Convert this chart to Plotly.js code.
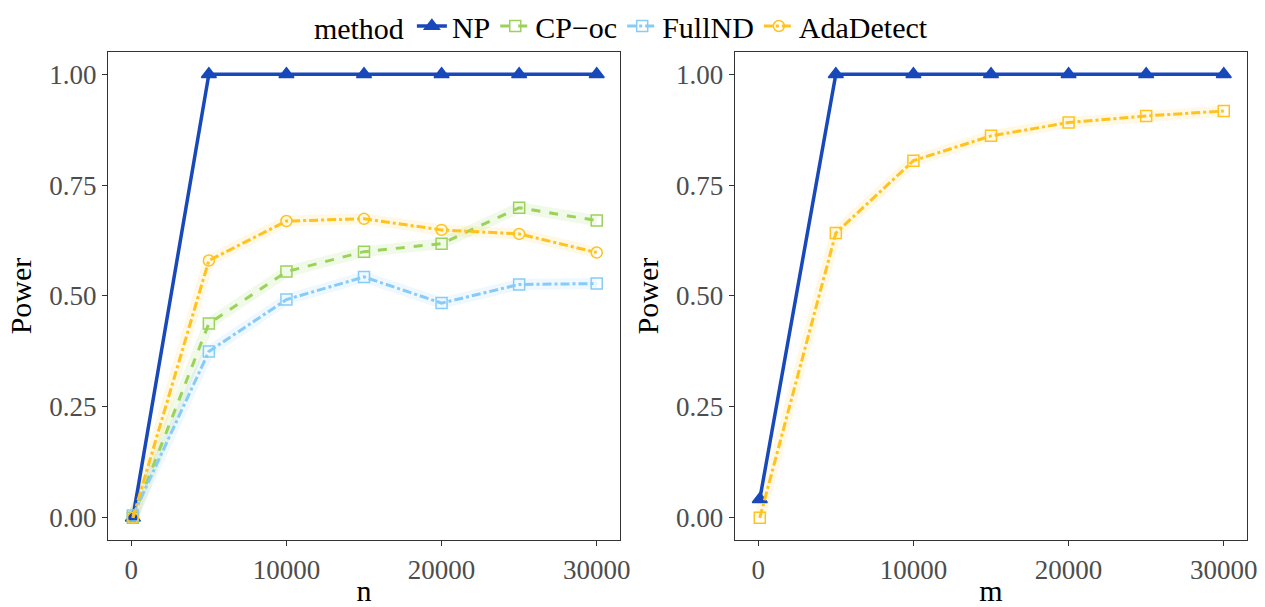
<!DOCTYPE html>
<html><head><meta charset="utf-8">
<script src="https://cdn.plot.ly/plotly-3.0.1.min.js"></script>
<style>html,body{margin:0;padding:0;background:#fff}#chart{width:1265px;height:607px}</style>
</head><body><div id="chart"></div>
<script>
// Data
const xVals = [100, 5000, 10000, 15000, 20000, 25000, 30000];
const methods = ["NP", "CP\u2212oc", "FullND", "AdaDetect"];
// Left panel (varying n)
const npN = [0.00, 1.00, 1.00, 1.00, 1.00, 1.00, 1.00];
const cpocN = [0.00, 0.438, 0.555, 0.600, 0.618, 0.699, 0.670];
const fullndN = [0.005, 0.375, 0.492, 0.543, 0.484, 0.526, 0.528];
const adaN = [0.00, 0.580, 0.669, 0.674, 0.649, 0.640, 0.598];
// Right panel (varying m)
const npM = [0.042, 1.00, 1.00, 1.00, 1.00, 1.00, 1.00];
const adaM = [0.00, 0.642, 0.805, 0.861, 0.891, 0.906, 0.917];

const col = {NP:"#1849BB", CP:"#9AD25A", FN:"#87CBF8", AD:"#FFC21F"};
const band = {CP:"rgba(154,210,90,0.14)", FN:"rgba(135,203,248,0.14)", AD:"rgba(255,194,31,0.12)"};

function bandTrace(y, c, xa, ya){
  return {x:xVals, y:y, type:"scatter", mode:"lines", line:{color:c, width:11},
    showlegend:false, hoverinfo:"skip", xaxis:xa, yaxis:ya};
}
function tr(name, y, c, dash, w, sym, msize, xa, ya, legend){
  return {x:xVals, y:y, type:"scatter", mode:"lines+markers", name:name,
    line:{color:c, width:w, dash:dash},
    marker:{symbol:sym, size:msize, color:c, line:{color:c, width:1.5}},
    showlegend:legend, legendgroup:name, xaxis:xa, yaxis:ya};
}

const traces = [
  bandTrace(cpocN, band.CP, "x", "y"),
  bandTrace(fullndN, band.FN, "x", "y"),
  bandTrace(adaN, band.AD, "x", "y"),
  bandTrace(adaM, band.AD, "x2", "y2"),
  tr(methods[0], npN, col.NP, "solid", 3.5, "triangle-up", 13, "x", "y", true),
  tr(methods[1], cpocN, col.CP, "dash", 3, "square-open", 11, "x", "y", true),
  tr(methods[2], fullndN, col.FN, "dashdot", 3, "square-open", 11, "x", "y", true),
  tr(methods[3], adaN, col.AD, "dashdot", 3, "circle-open", 11, "x", "y", true),
  tr(methods[0], npM, col.NP, "solid", 3.5, "triangle-up", 13, "x2", "y2", false),
  tr(methods[3], adaM, col.AD, "dashdot", 3, "square-open", 11, "x2", "y2", false)
];

const font = "Liberation Serif, Times New Roman, serif";
const tickF = {family:font, size:27, color:"#4d4d4d"};
const titleF = {family:font, size:30, color:"#000"};
function xax(dom, t){
  return {domain:dom, range:[-1500, 31500], tickvals:[0,10000,20000,30000], ticktext:["0","10000","20000","30000"],
    showline:true, mirror:true, linecolor:"#333", linewidth:1.2, ticks:"outside", ticklen:5, tickcolor:"#333",
    showgrid:false, zeroline:false, tickfont:tickF, automargin:false,
    title:{text:t, font:titleF, standoff:10}};
}
function yax(dom, anchor){
  return {domain:dom, range:[-0.05, 1.05], tickvals:[0,0.25,0.5,0.75,1], ticktext:["0.00","0.25","0.50","0.75","1.00"],
    showline:true, mirror:true, linecolor:"#333", linewidth:1.2, ticks:"outside", ticklen:5, tickcolor:"#333",
    showgrid:false, zeroline:false, tickfont:tickF, automargin:false, anchor:anchor,
    title:{text:"Power", font:titleF, standoff:8}};
}

const layout = {
  width:1265, height:607, margin:{l:0, r:0, t:0, b:0},
  paper_bgcolor:"#fff", plot_bgcolor:"#fff",
  font:{family:font},
  xaxis: Object.assign(xax([0.0854, 0.4901], "n"), {anchor:"y"}),
  yaxis: yax([0.1104, 0.9143], "x"),
  xaxis2: Object.assign(xax([0.581, 0.9858], "m"), {anchor:"y2"}),
  yaxis2: yax([0.1104, 0.9143], "x2"),
  legend:{orientation:"h", x:0.492, xanchor:"center", y:1.0, yanchor:"top",
    bgcolor:"rgba(255,255,255,0)",
    title:{text:"method", font:{family:font, size:30, color:"#000"}, side:"left"},
    font:{family:font, size:30, color:"#000"}, itemwidth:30, tracegroupgap:0},
  showlegend:true
};

Plotly.newPlot("chart", traces, layout, {displayModeBar:false, staticPlot:true});
</script></body></html>
